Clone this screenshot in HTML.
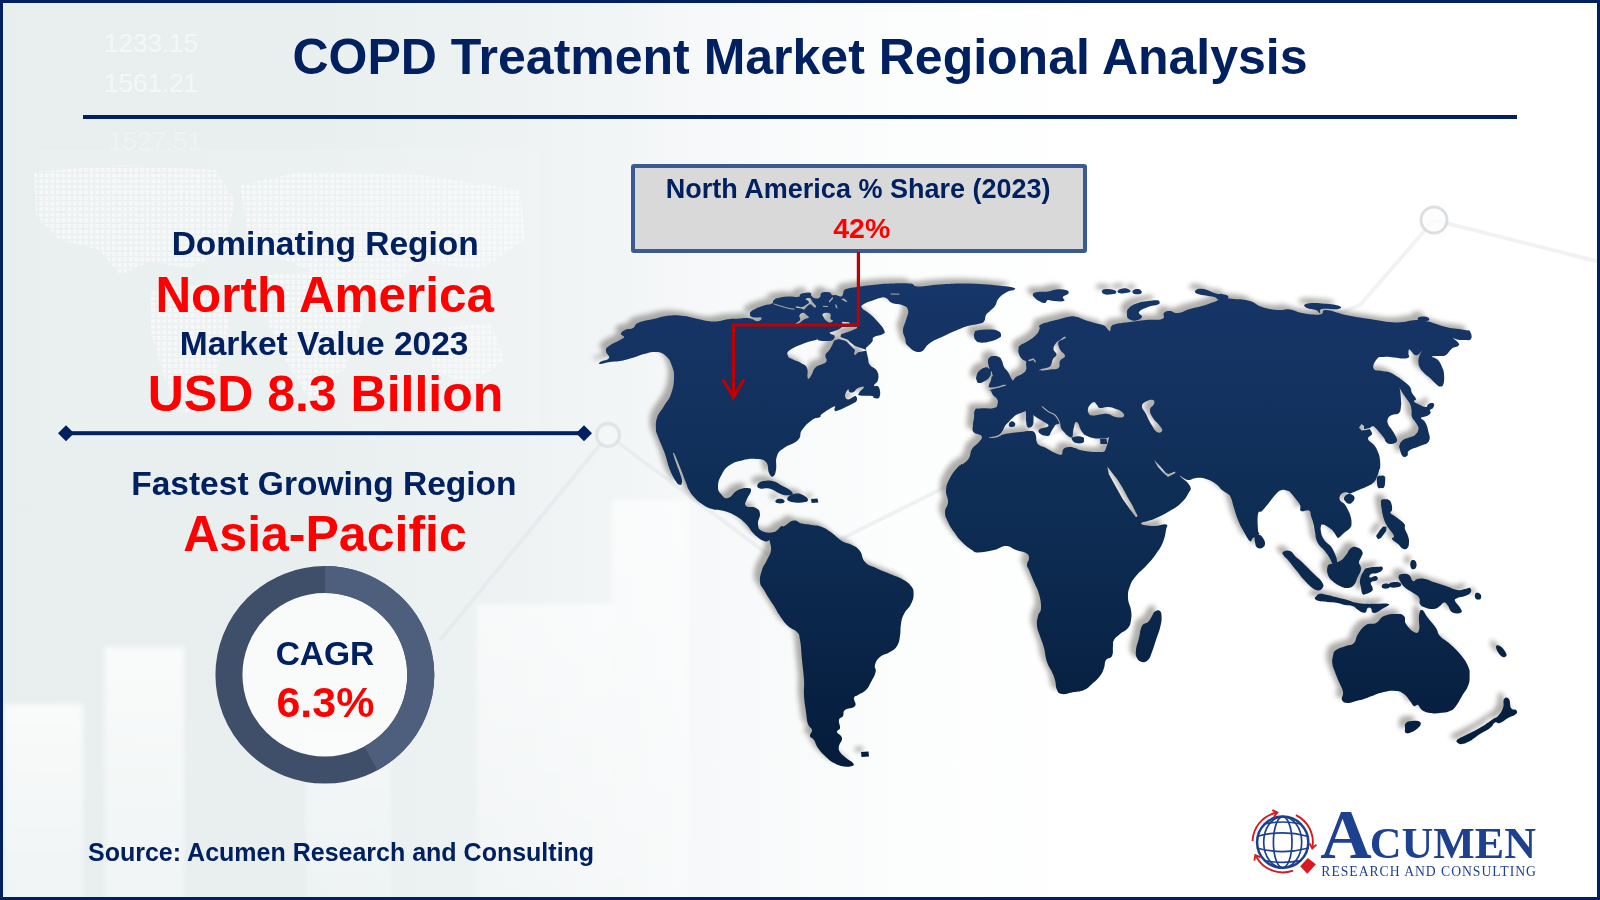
<!DOCTYPE html>
<html lang="en"><head><meta charset="utf-8"><title>COPD Treatment Market Regional Analysis</title>
<style>
html,body{margin:0;padding:0;}
body{width:1600px;height:900px;overflow:hidden;position:relative;background:#fff;font-family:"Liberation Sans",sans-serif;}
#stage{position:absolute;left:0;top:0;width:1600px;height:900px;overflow:hidden;
 background:linear-gradient(90deg,#e8eeee 0px,#e9efef 300px,#eef2f3 520px,#f6f8f9 700px,#fcfdfd 900px,#ffffff 1100px,#ffffff 1600px);}
#frame{position:absolute;left:0;top:0;width:1600px;height:900px;box-sizing:border-box;border:solid #002060;border-width:3px 3px 3px 3px;z-index:50;pointer-events:none;}
.t{position:absolute;white-space:nowrap;font-weight:bold;line-height:1;margin:0;}
.c{transform:translateX(-50%);}
.navy{color:#002060;}
.red{color:#ff0000;}
#title{left:800px;top:32.4px;font-size:50px;letter-spacing:0px;}
#rule{position:absolute;left:83.2px;top:114.7px;width:1433.7px;height:4.4px;background:#002060;}
#bg svg{position:absolute;left:0;top:0;}
svg{position:absolute;left:0;top:0;overflow:visible;}
</style></head>
<body>
<div id="stage">
<svg id="bgtex" width="1600" height="900" viewBox="0 0 1600 900">
<defs>
<linearGradient id="barfade" x1="0" y1="0" x2="0" y2="1"><stop offset="0" stop-color="#fff" stop-opacity="0.75"/><stop offset="1" stop-color="#fff" stop-opacity="0.35"/></linearGradient>
<filter id="soft" x="-10%" y="-10%" width="120%" height="120%"><feGaussianBlur stdDeviation="2.5"/></filter>
<pattern id="dots" width="5.6" height="5.6" patternUnits="userSpaceOnUse"><rect x="0" y="0" width="4" height="4" fill="#fff"/></pattern>
</defs>
<g filter="url(#soft)" opacity="1">
<rect x="4" y="704" width="79" height="196" fill="url(#barfade)"/>
<rect x="105" y="647" width="79" height="253" fill="url(#barfade)"/>
<rect x="306" y="735" width="85" height="165" fill="url(#barfade)" opacity="0.6"/>
<rect x="477" y="604" width="135" height="296" fill="url(#barfade)" opacity="0.8"/>
<rect x="612" y="500" width="78" height="400" fill="url(#barfade)" opacity="0.8"/>
</g>
<g opacity="0.6">
<path d="M34 172 L120 165 L215 170 L235 200 L225 250 L190 268 L150 262 L120 275 L100 250 L60 240 L36 215 Z" fill="url(#dots)"/>
<path d="M240 185 L300 172 L420 175 L520 190 L525 240 L480 270 L420 262 L380 300 L330 280 L290 262 L250 250 Z" fill="url(#dots)"/>
<path d="M150 290 L200 285 L230 320 L215 380 L185 415 L165 380 L150 330 Z" fill="url(#dots)"/>
<path d="M265 275 L340 270 L365 310 L345 370 L310 400 L285 360 L262 310 Z" fill="url(#dots)"/>
<path d="M430 330 L490 322 L505 360 L470 385 L432 370 Z" fill="url(#dots)"/>
</g>
<rect x="40" y="150" width="500" height="290" fill="#ffffff" opacity="0.10"/>
<g font-family="Liberation Sans, sans-serif" font-size="26" fill="#ffffff" opacity="0.55">
<text x="104" y="52">1233.15</text><text x="104" y="92">1561.21</text><text x="108" y="150" opacity="0.5">1527.51</text><text x="108" y="192" opacity="0.5">1215.22</text>
</g>
<path d="M440 640 L608 435 L785 567 L1120 400 L1360 305 L1434 220 L1600 262" fill="none" stroke="#dfe3e6" stroke-width="4" opacity="0.45"/>
<circle cx="1434" cy="220" r="13" fill="#fdfdfd" stroke="#d4d8db" stroke-width="3" opacity="0.8"/>
<circle cx="608" cy="435" r="11.5" fill="#f6f8f8" stroke="#dde1e3" stroke-width="3.4" opacity="0.8"/>
</svg>
<div id="title" class="t c navy">COPD Treatment Market Regional Analysis</div>
<div id="rule"></div>
<svg id="deco" width="1600" height="900" viewBox="0 0 1600 900">
<rect x="66" y="431.2" width="518" height="4" fill="#002060"/>
<path d="M58 433.2 L66 425.2 L74 433.2 L66 441.2 Z" fill="#002060"/>
<path d="M576 433.2 L584 425.2 L592 433.2 L584 441.2 Z" fill="#002060"/>
<ellipse cx="324.85" cy="674.8" rx="90" ry="89.5" fill="#fbfcfc" opacity="0.9"/>
<ellipse cx="324.85" cy="674.8" rx="95.9" ry="95.3" fill="none" stroke="#404f69" stroke-width="27"/>
<path d="M324.85 579.5 A95.9 95.3 0 0 1 370.85 758.4" fill="none" stroke="#4d5f7c" stroke-width="27"/>
</svg>
<div id="l1" class="t c navy" style="left:325.2px;top:227.4px;font-size:33.5px;">Dominating Region</div>
<div id="l2" class="t c red" style="left:324.65px;top:269.8px;font-size:49.4px;">North America</div>
<div id="l3" class="t c navy" style="left:324.1px;top:327.1px;font-size:33.5px;">Market Value 2023</div>
<div id="l4" class="t c red" style="left:325.5px;top:369.2px;font-size:50px;">USD 8.3 Billion</div>
<div id="l5" class="t c navy" style="left:323.9px;top:466.9px;font-size:33.5px;">Fastest Growing Region</div>
<div id="l6" class="t c red" style="left:325px;top:509.2px;font-size:50px;">Asia-Pacific</div>
<div id="l7" class="t c navy" style="left:325px;top:637.3px;font-size:33.5px;">CAGR</div>
<div id="l8" class="t c red" style="left:325.4px;top:680.5px;font-size:43px;">6.3%</div>
<div id="src" class="t navy" style="left:88px;top:840px;font-size:25px;">Source: Acumen Research and Consulting</div>
<div id="callout" style="position:absolute;left:630.5px;top:163.5px;width:456px;height:89px;box-sizing:border-box;border:4.6px solid #3b5a92;border-radius:3px;background:#d9d9d9;"></div>
<div id="c1" class="t c navy" style="left:858.2px;top:176px;font-size:27px;">North America % Share (2023)</div>
<div id="c2" class="t c red" style="left:861.8px;top:213.5px;font-size:28.5px;">42%</div>
<svg id="map" width="1600" height="900" viewBox="0 0 1600 900">
<defs>
<linearGradient id="mapgrad" gradientUnits="userSpaceOnUse" x1="0" y1="283" x2="0" y2="768">
<stop offset="0" stop-color="#173669"/><stop offset="0.48" stop-color="#0e2d54"/><stop offset="1" stop-color="#051c3b"/>
</linearGradient>
<mask id="landmask" maskUnits="userSpaceOnUse" x="580" y="260" width="990" height="530">
<rect x="580" y="260" width="990" height="530" fill="#000"/>
<path d="M600.0 364.0C597.9 363.9 598.9 363.0 601.0 361.6C603.1 360.2 607.8 360.5 609.0 358.0C610.2 355.5 606.0 353.8 606.0 351.0C606.0 348.2 605.7 348.6 609.0 346.0C612.3 343.4 616.5 342.1 620.0 340.0C623.5 337.9 623.8 338.5 624.0 337.0C624.2 335.5 620.5 335.3 621.0 333.6C621.5 331.9 623.2 330.9 626.0 329.6C628.8 328.3 630.0 329.7 633.0 328.0C636.0 326.3 633.6 324.6 639.0 322.4C644.4 320.2 648.8 320.0 656.0 318.4C663.2 316.8 663.5 316.2 670.0 315.6C676.5 315.0 677.5 315.2 684.0 316.0C690.5 316.8 691.0 317.7 698.0 319.0C705.0 320.3 707.0 321.6 714.0 321.6C721.0 321.6 721.9 319.9 728.0 319.2C734.1 318.5 735.8 318.8 740.0 318.5C744.2 318.2 743.2 317.9 746.0 318.0C748.8 318.1 749.7 318.3 752.0 319.0C754.3 319.7 754.1 320.6 756.0 321.0C757.9 321.4 758.8 321.3 760.0 320.5C761.2 319.7 762.4 318.2 761.0 317.5C759.6 316.8 756.5 317.9 754.0 317.5C751.5 317.1 751.4 316.9 750.5 316.0C749.6 315.1 749.9 314.6 750.0 313.5C750.1 312.4 749.6 312.7 751.0 311.5C752.4 310.3 753.0 309.9 756.0 308.5C759.0 307.1 760.3 306.7 764.0 305.5C767.7 304.3 769.8 304.7 772.0 303.5C774.2 302.3 772.1 301.8 773.5 300.5C774.9 299.2 774.6 298.9 778.0 298.0C781.4 297.1 783.2 296.8 788.0 296.5C792.8 296.2 795.7 297.3 798.5 296.8C801.3 296.3 798.7 295.4 800.0 294.5C801.3 293.6 801.5 293.4 804.0 293.0C806.5 292.6 808.8 292.3 810.5 293.0C812.2 293.7 810.2 294.7 811.5 296.0C812.8 297.3 814.0 298.3 816.0 298.5C818.0 298.7 818.8 298.2 820.0 297.0C821.2 295.8 819.8 294.7 821.0 293.5C822.2 292.3 822.9 292.2 825.0 292.0C827.1 291.8 828.4 291.8 830.0 292.5C831.6 293.2 830.6 294.4 832.0 295.0C833.4 295.6 833.9 294.6 836.0 295.0C838.1 295.4 839.4 296.7 841.0 296.5C842.6 296.3 842.3 295.4 843.0 294.0C843.7 292.6 842.8 291.8 844.0 290.5C845.2 289.2 845.0 289.3 848.0 288.5C851.0 287.7 851.7 287.7 856.8 287.0C861.9 286.3 862.3 286.1 870.0 285.3C877.7 284.5 880.7 284.0 890.0 283.6C899.3 283.2 903.5 282.9 910.0 283.6C916.5 284.3 911.0 286.2 918.0 286.4C925.0 286.6 927.9 285.1 940.0 284.4C952.1 283.7 955.5 283.2 970.0 283.6C984.5 284.0 991.8 285.0 1002.0 286.0C1012.2 287.0 1010.8 286.9 1013.6 287.8C1016.4 288.7 1015.3 289.1 1014.0 290.0C1012.7 290.9 1011.5 289.7 1008.0 291.6C1004.5 293.5 1002.0 294.6 999.0 298.0C996.0 301.4 997.1 303.0 995.0 306.0C992.9 309.0 992.1 308.9 990.0 311.0C987.9 313.1 987.4 312.6 986.0 315.0C984.6 317.4 985.9 319.4 984.0 321.5C982.1 323.6 981.3 323.1 978.0 324.0C974.7 324.9 973.7 324.6 970.0 325.5C966.3 326.4 968.1 325.6 962.0 328.0C955.9 330.4 951.5 332.5 944.0 336.0C936.5 339.5 935.6 339.3 930.0 343.0C924.4 346.7 925.1 351.3 920.0 352.0C914.9 352.7 911.5 349.3 908.0 346.0C904.5 342.7 906.2 341.7 905.0 338.0C903.8 334.3 902.8 334.2 903.0 330.0C903.2 325.8 904.8 324.7 906.0 320.0C907.2 315.3 908.9 313.5 908.0 310.0C907.1 306.5 905.7 306.6 902.0 305.0C898.3 303.4 895.7 304.6 892.0 303.0C888.3 301.4 888.8 299.2 886.0 298.0C883.2 296.8 882.8 297.5 880.0 298.0C877.2 298.5 877.7 298.6 874.0 300.0C870.3 301.4 866.8 302.1 864.0 304.0C861.2 305.9 860.6 305.7 862.0 308.0C863.4 310.3 866.3 310.7 870.0 314.0C873.7 317.3 874.7 318.3 878.0 322.0C881.3 325.7 882.8 327.2 884.0 330.0C885.2 332.8 885.3 332.4 883.0 334.0C880.7 335.6 876.6 335.1 874.0 337.0C871.4 338.9 873.9 339.4 872.0 342.0C870.1 344.6 867.4 346.4 866.0 348.0C864.6 349.6 865.5 346.7 866.0 349.0C866.5 351.3 867.1 354.3 868.0 358.0C868.9 361.7 867.9 362.0 870.0 365.0C872.1 368.0 875.1 367.5 877.0 371.0C878.9 374.5 878.7 376.6 878.0 380.0C877.3 383.4 873.8 383.8 874.0 385.5C874.2 387.2 877.7 384.8 879.0 387.5C880.3 390.2 880.7 394.6 879.5 397.0C878.3 399.4 875.8 398.2 874.0 398.0C872.2 397.8 875.3 396.6 872.0 396.0C868.7 395.4 863.0 396.2 860.0 395.5C857.0 394.8 858.1 395.0 859.0 393.0C859.9 391.0 864.2 388.2 864.0 387.0C863.8 385.8 860.5 386.8 858.0 388.0C855.5 389.2 855.5 391.1 853.5 392.0C851.5 392.9 850.8 392.6 849.5 392.0C848.2 391.4 849.0 388.7 848.0 389.5C847.0 390.3 845.0 393.2 845.0 395.5C845.0 397.8 845.9 399.3 848.0 399.5C850.1 399.7 852.0 397.1 854.0 396.5C856.0 395.9 855.9 395.9 856.5 397.0C857.1 398.1 857.5 399.4 856.5 401.0C855.5 402.6 856.3 401.8 852.0 404.0C847.7 406.2 842.1 409.1 838.0 410.5C833.9 411.9 835.4 410.9 834.5 410.0C833.6 409.1 836.9 405.6 834.0 406.5C831.1 407.4 825.3 411.6 822.0 414.0C818.7 416.4 822.3 415.6 820.0 417.0C817.7 418.4 816.2 417.0 812.0 420.0C807.8 423.0 805.3 425.3 802.0 430.0C798.7 434.7 802.2 435.8 798.0 440.0C793.8 444.2 788.9 444.3 784.0 448.0C779.1 451.7 778.9 450.9 777.0 456.0C775.1 461.1 776.9 465.2 776.0 470.0C775.1 474.8 774.6 475.7 773.0 476.4C771.4 477.1 770.6 476.4 769.0 473.0C767.4 469.6 769.0 465.3 766.0 462.0C763.0 458.7 761.6 459.4 756.0 459.0C750.4 458.6 748.1 459.0 742.0 460.4C735.9 461.8 734.7 461.8 730.0 465.0C725.3 468.2 724.8 469.1 722.0 474.0C719.2 478.9 718.2 481.3 718.0 486.0C717.8 490.7 718.7 491.2 721.0 494.0C723.3 496.8 724.0 498.9 728.0 498.0C732.0 497.1 733.3 492.3 738.0 490.0C742.7 487.7 745.0 487.8 748.0 488.0C751.0 488.2 751.2 488.4 751.0 491.0C750.8 493.6 748.2 495.5 747.0 499.0C745.8 502.5 743.9 503.9 746.0 506.0C748.1 508.1 752.7 506.1 756.0 508.0C759.3 509.9 759.5 510.3 760.0 514.0C760.5 517.7 757.5 520.0 758.0 524.0C758.5 528.0 758.3 529.1 762.0 531.0C765.7 532.9 769.3 533.2 774.0 532.0C778.7 530.8 779.7 526.0 782.0 526.0C784.3 526.0 785.4 529.2 784.0 532.0C782.6 534.8 779.3 536.1 776.0 538.0C772.7 539.9 772.8 539.3 770.0 540.0C767.2 540.7 767.7 542.4 764.0 541.0C760.3 539.6 758.2 538.0 754.0 534.0C749.8 530.0 750.2 528.2 746.0 524.0C741.8 519.8 741.1 519.0 736.0 516.0C730.9 513.0 729.6 512.6 724.0 511.0C718.4 509.4 717.1 510.6 712.0 509.0C706.9 507.4 706.2 506.8 702.0 504.0C697.8 501.2 697.0 500.3 694.0 497.0C691.0 493.7 690.8 493.0 689.0 490.0C687.2 487.0 687.5 486.6 686.5 484.0C685.5 481.4 685.7 482.0 684.5 479.0C683.3 476.0 682.9 474.7 681.5 471.0C680.1 467.3 679.8 466.7 678.3 463.0C676.8 459.3 676.0 457.3 675.0 455.0C674.0 452.7 674.2 453.5 673.8 453.2C673.4 452.9 672.6 451.3 673.2 453.8C673.8 456.3 675.0 459.8 676.5 464.0C678.0 468.2 678.3 468.5 679.5 472.0C680.7 475.5 681.3 476.4 681.8 479.0C682.3 481.6 682.2 481.6 681.8 483.0C681.4 484.4 681.4 485.2 680.0 484.8C678.6 484.4 678.3 485.0 676.0 481.5C673.7 478.0 672.6 476.4 670.0 470.0C667.4 463.6 667.1 460.1 665.0 454.0C662.9 447.9 662.9 448.7 661.0 444.0C659.1 439.3 658.2 437.3 657.0 434.0C655.8 430.7 656.0 433.7 656.0 430.0C656.0 426.3 655.1 423.6 657.0 418.0C658.9 412.4 660.7 411.6 664.0 406.0C667.3 400.4 668.7 400.5 671.0 394.0C673.3 387.5 673.8 384.5 674.0 378.0C674.2 371.5 673.9 371.1 672.0 366.0C670.1 360.9 669.7 359.3 666.0 356.0C662.3 352.7 661.1 352.5 656.0 352.0C650.9 351.5 649.6 352.6 644.0 354.0C638.4 355.4 637.6 356.4 632.0 358.0C626.4 359.6 625.1 360.1 620.0 361.0C614.9 361.9 614.7 361.3 610.0 362.0C605.3 362.7 602.1 364.1 600.0 364.0ZM770.0 538.0C771.2 533.8 772.3 535.0 776.0 532.0C779.7 529.0 781.8 527.7 786.0 525.0C790.2 522.3 790.3 520.9 794.0 520.6C797.7 520.3 797.8 522.6 802.0 523.6C806.2 524.6 807.3 524.2 812.0 525.0C816.7 525.8 817.3 525.1 822.0 527.0C826.7 528.9 827.3 529.7 832.0 533.0C836.7 536.3 837.3 538.2 842.0 541.0C846.7 543.8 847.8 542.7 852.0 545.0C856.2 547.3 857.0 547.0 860.0 551.0C863.0 555.0 861.3 558.0 865.0 562.0C868.7 566.0 870.2 565.2 876.0 568.0C881.8 570.8 883.9 571.4 890.0 574.0C896.1 576.6 897.1 576.2 902.0 579.0C906.9 581.8 908.3 582.5 911.0 586.0C913.7 589.5 913.6 589.8 913.6 594.0C913.6 598.2 913.2 599.3 911.0 604.0C908.8 608.7 906.3 609.3 904.0 614.0C901.7 618.7 901.9 618.9 901.0 624.0C900.1 629.1 900.9 630.9 900.0 636.0C899.1 641.1 899.3 642.3 897.0 646.0C894.7 649.7 894.0 649.4 890.0 652.0C886.0 654.6 883.5 654.0 880.0 657.0C876.5 660.0 876.0 661.5 875.0 665.0C874.0 668.5 876.5 668.0 875.6 672.0C874.7 676.0 873.2 677.8 871.0 682.0C868.8 686.2 869.0 687.0 866.0 690.0C863.0 693.0 860.8 693.1 858.0 695.0C855.2 696.9 854.7 695.4 854.0 698.0C853.3 700.6 857.1 703.2 855.0 706.0C852.9 708.8 847.8 707.7 845.0 710.0C842.2 712.3 844.4 713.7 843.0 716.0C841.6 718.3 839.7 717.2 839.0 720.0C838.3 722.8 840.5 725.2 840.0 728.0C839.5 730.8 836.5 729.7 837.0 732.0C837.5 734.3 841.5 734.7 842.0 738.0C842.5 741.3 839.5 742.7 839.0 746.0C838.5 749.3 838.4 749.2 840.0 752.0C841.6 754.8 843.0 755.4 846.0 758.0C849.0 760.6 851.6 761.1 853.0 763.0C854.4 764.9 854.1 765.2 852.0 766.0C849.9 766.8 848.2 767.1 844.0 766.4C839.8 765.7 838.4 765.4 834.0 763.0C829.6 760.6 828.7 759.5 825.0 756.0C821.3 752.5 820.6 751.7 818.0 748.0C815.4 744.3 815.9 742.8 814.0 740.0C812.1 737.2 810.5 738.3 810.0 736.0C809.5 733.7 812.5 732.8 812.0 730.0C811.5 727.2 809.4 728.2 808.0 724.0C806.6 719.8 806.9 718.5 806.0 712.0C805.1 705.5 804.5 703.5 804.0 696.0C803.5 688.5 804.5 688.4 804.0 680.0C803.5 671.6 802.9 669.3 802.0 660.0C801.1 650.7 801.2 646.5 800.0 640.0C798.8 633.5 799.8 635.3 797.0 632.0C794.2 628.7 792.0 629.7 788.0 626.0C784.0 622.3 783.3 620.7 780.0 616.0C776.7 611.3 776.3 609.7 774.0 606.0C771.7 602.3 772.3 603.7 770.0 600.0C767.7 596.3 766.3 594.2 764.0 590.0C761.7 585.8 760.5 586.7 760.0 582.0C759.5 577.3 760.4 575.1 762.0 570.0C763.6 564.9 764.9 564.7 767.0 560.0C769.1 555.3 770.3 555.1 771.0 550.0C771.7 544.9 768.8 542.2 770.0 538.0ZM1018.5 349.0C1018.7 347.0 1017.8 347.4 1020.0 345.5C1022.2 343.6 1024.3 343.4 1028.0 341.0C1031.7 338.6 1033.3 337.8 1036.0 335.0C1038.7 332.2 1038.6 331.3 1039.5 329.0C1040.4 326.7 1037.5 326.8 1040.0 325.0C1042.5 323.2 1045.3 322.9 1050.0 321.5C1054.7 320.1 1055.3 320.2 1060.0 319.0C1064.7 317.8 1066.0 317.0 1070.0 316.5C1074.0 316.0 1073.5 316.2 1077.0 317.0C1080.5 317.8 1080.8 318.6 1085.0 320.0C1089.2 321.4 1090.6 321.7 1095.0 323.0C1099.4 324.3 1101.1 324.1 1104.0 325.5C1106.9 326.9 1106.1 327.7 1107.5 329.0C1108.9 330.3 1109.1 331.7 1110.0 331.0C1110.9 330.3 1110.1 327.6 1111.5 326.0C1112.9 324.4 1113.5 324.7 1116.0 324.0C1118.5 323.3 1118.7 323.5 1122.0 323.0C1125.3 322.5 1124.4 322.7 1130.0 322.0C1135.6 321.3 1138.5 320.7 1146.0 320.0C1153.5 319.3 1157.8 320.6 1162.0 319.0C1166.2 317.4 1162.1 314.9 1164.0 313.0C1165.9 311.1 1166.7 311.0 1170.0 311.0C1173.3 311.0 1173.3 313.5 1178.0 313.0C1182.7 312.5 1184.4 310.6 1190.0 309.0C1195.6 307.4 1196.4 307.6 1202.0 306.0C1207.6 304.4 1209.3 303.6 1214.0 302.0C1218.7 300.4 1217.3 299.7 1222.0 299.0C1226.7 298.3 1227.5 298.5 1234.0 299.0C1240.5 299.5 1243.5 299.1 1250.0 301.0C1256.5 302.9 1255.5 304.9 1262.0 307.0C1268.5 309.1 1271.5 309.4 1278.0 310.0C1284.5 310.6 1284.4 308.8 1290.0 309.5C1295.6 310.2 1295.0 311.8 1302.0 313.0C1309.0 314.2 1314.4 315.2 1320.0 314.5C1325.6 313.8 1319.9 309.9 1326.0 310.0C1332.1 310.1 1335.7 312.9 1346.0 315.0C1356.3 317.1 1358.3 317.3 1370.0 319.0C1381.7 320.7 1385.3 322.2 1396.0 322.4C1406.7 322.6 1408.5 320.2 1416.0 320.0C1423.5 319.8 1421.0 320.0 1428.0 321.6C1435.0 323.2 1437.4 325.0 1446.0 327.0C1454.6 329.0 1459.4 328.9 1465.0 330.0C1470.6 331.1 1468.6 329.4 1470.0 331.5C1471.4 333.6 1472.4 337.0 1471.0 339.0C1469.6 341.0 1467.3 339.9 1464.0 340.0C1460.7 340.1 1459.6 340.0 1457.0 339.5C1454.4 339.0 1452.7 337.2 1453.0 338.0C1453.3 338.8 1457.3 341.1 1458.5 343.0C1459.7 344.9 1459.5 344.7 1458.0 346.0C1456.5 347.3 1454.8 346.4 1452.0 348.5C1449.2 350.6 1448.8 353.2 1446.0 355.0C1443.2 356.8 1443.3 355.6 1440.0 356.0C1436.7 356.4 1432.5 355.6 1432.0 356.5C1431.5 357.4 1435.7 357.6 1438.0 360.0C1440.3 362.4 1440.6 363.7 1442.0 367.0C1443.4 370.3 1443.7 370.0 1444.0 374.0C1444.3 378.0 1444.4 381.1 1443.5 384.0C1442.6 386.9 1441.8 386.5 1440.0 386.5C1438.2 386.5 1438.3 386.0 1436.0 384.0C1433.7 382.0 1432.8 380.6 1430.0 378.0C1427.2 375.4 1426.3 375.3 1424.0 373.0C1421.7 370.7 1421.3 370.3 1420.0 368.0C1418.7 365.7 1418.7 365.6 1418.5 363.0C1418.3 360.4 1418.2 359.9 1419.0 357.0C1419.8 354.1 1422.0 351.2 1422.0 350.5C1422.0 349.8 1420.6 352.9 1419.0 354.0C1417.4 355.1 1416.9 355.7 1415.0 355.0C1413.1 354.3 1412.4 352.3 1411.0 351.0C1409.6 349.7 1409.6 348.8 1409.0 349.5C1408.4 350.2 1408.5 352.2 1408.5 354.0C1408.5 355.8 1410.0 355.9 1409.0 357.0C1408.0 358.1 1407.5 358.4 1404.0 358.5C1400.5 358.6 1398.7 357.9 1394.0 357.5C1389.3 357.1 1388.0 356.6 1384.0 357.0C1380.0 357.4 1379.5 356.3 1377.0 359.0C1374.5 361.7 1372.3 365.7 1373.5 368.5C1374.7 371.3 1378.2 370.1 1382.0 371.0C1385.8 371.9 1386.5 371.2 1390.0 372.5C1393.5 373.8 1393.7 374.4 1397.0 376.5C1400.3 378.6 1401.0 379.1 1404.0 381.5C1407.0 383.9 1408.1 384.3 1410.0 387.0C1411.9 389.7 1410.6 390.2 1412.0 393.0C1413.4 395.8 1415.5 397.0 1416.0 399.0C1416.5 401.0 1413.1 400.1 1414.0 401.5C1414.9 402.9 1417.2 403.7 1420.0 405.0C1422.8 406.3 1424.1 407.1 1426.0 407.0C1427.9 406.9 1426.8 405.4 1428.0 404.5C1429.2 403.6 1429.6 403.1 1431.0 403.0C1432.4 402.9 1433.5 402.8 1434.0 404.0C1434.5 405.2 1433.9 406.6 1433.0 408.0C1432.1 409.4 1430.6 408.8 1430.0 410.0C1429.4 411.2 1431.2 411.6 1430.5 413.0C1429.8 414.4 1429.2 414.8 1427.0 416.0C1424.8 417.2 1421.5 416.6 1421.0 418.0C1420.5 419.4 1423.4 419.2 1425.0 422.0C1426.6 424.8 1427.1 425.6 1428.0 430.0C1428.9 434.4 1430.9 437.3 1429.0 441.0C1427.1 444.7 1424.0 444.1 1420.0 446.0C1416.0 447.9 1414.8 447.6 1412.0 449.0C1409.2 450.4 1409.0 450.5 1408.0 452.0C1407.0 453.5 1408.7 454.4 1407.5 455.5C1406.3 456.6 1404.8 457.8 1403.0 456.5C1401.2 455.2 1400.8 452.7 1400.0 450.0C1399.2 447.3 1398.8 447.3 1399.5 445.0C1400.2 442.7 1400.8 441.8 1403.0 440.0C1405.2 438.2 1406.2 438.7 1409.0 437.5C1411.8 436.3 1412.8 437.0 1415.0 435.0C1417.2 433.0 1418.3 431.8 1418.5 429.0C1418.7 426.2 1417.5 425.8 1416.0 423.0C1414.5 420.2 1413.0 420.0 1412.0 417.0C1411.0 414.0 1412.0 413.0 1411.5 410.0C1411.0 407.0 1411.3 406.8 1410.0 404.0C1408.7 401.2 1407.9 400.8 1406.0 398.0C1404.1 395.2 1403.6 394.6 1402.0 392.0C1400.4 389.4 1399.5 387.5 1399.0 387.0C1398.5 386.5 1399.5 387.0 1400.0 390.0C1400.5 393.0 1400.8 396.3 1401.0 400.0C1401.2 403.7 1401.5 403.0 1401.0 406.0C1400.5 409.0 1401.1 410.9 1399.0 413.0C1396.9 415.1 1394.6 413.7 1392.0 415.0C1389.4 416.3 1388.9 416.4 1388.0 418.5C1387.1 420.6 1387.1 421.3 1388.0 424.0C1388.9 426.7 1390.4 427.4 1392.0 430.0C1393.6 432.6 1393.8 432.7 1395.0 435.0C1396.2 437.3 1397.0 438.1 1397.0 440.0C1397.0 441.9 1396.6 442.1 1395.0 443.0C1393.4 443.9 1392.1 444.2 1390.0 444.0C1387.9 443.8 1387.4 443.4 1386.0 442.0C1384.6 440.6 1385.4 440.1 1384.0 438.0C1382.6 435.9 1382.2 435.6 1380.0 433.0C1377.8 430.4 1376.4 428.5 1374.5 427.0C1372.6 425.5 1373.0 426.0 1372.0 426.5C1371.0 427.0 1370.0 427.2 1370.0 429.0C1370.0 430.8 1372.5 431.7 1372.0 434.0C1371.5 436.3 1367.5 436.4 1368.0 439.0C1368.5 441.6 1371.7 442.0 1374.0 445.0C1376.3 448.0 1376.6 448.5 1378.0 452.0C1379.4 455.5 1379.5 455.8 1380.0 460.0C1380.5 464.2 1380.1 467.9 1380.0 470.0C1379.9 472.1 1380.2 467.4 1379.5 469.0C1378.8 470.6 1378.5 473.7 1377.0 477.0C1375.5 480.3 1375.6 480.7 1373.0 483.0C1370.4 485.3 1369.0 485.5 1366.0 487.0C1363.0 488.5 1362.8 488.3 1360.0 489.5C1357.2 490.7 1356.3 491.1 1354.0 492.0C1351.7 492.9 1351.9 493.4 1350.0 493.5C1348.1 493.6 1347.9 492.3 1346.0 492.3C1344.1 492.3 1343.5 492.3 1342.0 493.5C1340.5 494.7 1339.7 495.6 1339.5 497.5C1339.3 499.4 1339.8 500.0 1341.0 501.5C1342.2 503.0 1342.9 502.0 1344.5 504.0C1346.1 506.0 1346.6 507.2 1348.0 510.0C1349.4 512.8 1349.7 513.0 1350.5 516.0C1351.3 519.0 1351.6 520.2 1351.5 523.0C1351.4 525.8 1351.8 525.7 1350.0 528.0C1348.2 530.3 1346.6 530.8 1344.0 533.0C1341.4 535.2 1340.6 536.6 1339.0 537.5C1337.4 538.4 1338.4 538.5 1337.0 537.0C1335.6 535.5 1335.1 533.3 1333.0 531.0C1330.9 528.7 1330.3 528.5 1328.0 527.0C1325.7 525.5 1324.6 524.7 1323.0 524.5C1321.4 524.3 1321.5 524.2 1321.0 526.0C1320.5 527.8 1320.5 529.2 1321.0 532.0C1321.5 534.8 1321.6 535.4 1323.0 538.0C1324.4 540.6 1325.1 541.0 1327.0 543.0C1328.9 545.0 1329.1 543.9 1331.0 546.5C1332.9 549.1 1333.6 550.6 1335.0 554.0C1336.4 557.4 1336.9 558.4 1337.0 561.0C1337.1 563.6 1336.4 564.2 1335.5 565.0C1334.6 565.8 1334.5 566.4 1333.0 564.5C1331.5 562.6 1331.1 560.4 1329.0 557.0C1326.9 553.6 1326.1 552.6 1324.0 550.0C1321.9 547.4 1321.8 548.3 1320.0 546.0C1318.2 543.7 1317.7 543.3 1316.5 540.0C1315.3 536.7 1315.7 535.7 1315.0 532.0C1314.3 528.3 1314.4 527.7 1313.5 524.0C1312.6 520.3 1312.0 519.1 1311.0 516.0C1310.0 512.9 1311.3 511.7 1309.0 510.5C1306.7 509.3 1303.1 512.3 1301.0 511.0C1298.9 509.7 1301.4 508.0 1300.0 505.0C1298.6 502.0 1297.3 501.0 1295.0 498.0C1292.7 495.0 1291.6 493.6 1290.0 492.0C1288.4 490.4 1289.9 491.5 1288.0 491.0C1286.1 490.5 1284.8 489.3 1282.0 490.0C1279.2 490.7 1279.3 490.7 1276.0 494.0C1272.7 497.3 1271.3 500.0 1268.0 504.0C1264.7 508.0 1264.3 508.7 1262.0 511.0C1259.7 513.3 1258.9 509.6 1258.0 514.0C1257.1 518.4 1257.8 525.3 1258.0 530.0C1258.2 534.7 1260.2 532.1 1259.0 534.0C1257.8 535.9 1255.1 536.4 1253.0 538.0C1250.9 539.6 1252.1 542.4 1250.0 541.0C1247.9 539.6 1246.8 536.9 1244.0 532.0C1241.2 527.1 1240.3 525.6 1238.0 520.0C1235.7 514.4 1235.6 513.1 1234.0 508.0C1232.4 502.9 1232.4 501.3 1231.0 498.0C1229.6 494.7 1230.1 495.9 1228.0 494.0C1225.9 492.1 1224.8 492.3 1222.0 490.0C1219.2 487.7 1219.7 486.6 1216.0 484.0C1212.3 481.4 1210.7 480.4 1206.0 479.0C1201.3 477.6 1200.2 477.8 1196.0 478.0C1191.8 478.2 1191.7 480.5 1188.0 480.0C1184.3 479.5 1179.5 474.6 1180.0 476.0C1180.5 477.4 1188.1 481.8 1190.0 486.0C1191.9 490.2 1190.3 489.8 1188.0 494.0C1185.7 498.2 1184.7 499.8 1180.0 504.0C1175.3 508.2 1174.1 508.5 1168.0 512.0C1161.9 515.5 1160.3 516.3 1154.0 519.0C1147.7 521.7 1141.0 521.9 1141.0 523.5C1141.0 525.1 1148.2 525.8 1154.0 526.0C1159.8 526.2 1163.2 523.6 1166.0 524.5C1168.8 525.4 1166.7 525.9 1166.0 530.0C1165.3 534.1 1165.3 536.4 1163.0 542.0C1160.7 547.6 1160.0 548.4 1156.0 554.0C1152.0 559.6 1150.7 560.9 1146.0 566.0C1141.3 571.1 1139.7 571.3 1136.0 576.0C1132.3 580.7 1131.9 580.9 1130.0 586.0C1128.1 591.1 1127.8 592.4 1128.0 598.0C1128.2 603.6 1130.3 604.9 1131.0 610.0C1131.7 615.1 1131.7 615.8 1131.0 620.0C1130.3 624.2 1130.6 624.7 1128.0 628.0C1125.4 631.3 1123.3 631.2 1120.0 634.0C1116.7 636.8 1115.6 637.2 1114.0 640.0C1112.4 642.8 1113.5 642.3 1113.0 646.0C1112.5 649.7 1113.6 652.7 1112.0 656.0C1110.4 659.3 1107.9 657.2 1106.0 660.0C1104.1 662.8 1105.4 664.3 1104.0 668.0C1102.6 671.7 1102.8 672.3 1100.0 676.0C1097.2 679.7 1095.7 680.7 1092.0 684.0C1088.3 687.3 1088.7 688.0 1084.0 690.0C1079.3 692.0 1077.1 691.5 1072.0 692.4C1066.9 693.3 1065.5 694.6 1062.0 694.0C1058.5 693.4 1058.6 693.3 1057.0 690.0C1055.4 686.7 1056.2 684.2 1055.0 680.0C1053.8 675.8 1053.9 676.2 1052.0 672.0C1050.1 667.8 1048.9 667.6 1047.0 662.0C1045.1 656.4 1045.6 654.1 1044.0 648.0C1042.4 641.9 1041.6 641.1 1040.0 636.0C1038.4 630.9 1037.5 630.7 1037.0 626.0C1036.5 621.3 1037.1 620.2 1038.0 616.0C1038.9 611.8 1040.8 613.1 1041.0 608.0C1041.2 602.9 1040.6 600.1 1039.0 594.0C1037.4 587.9 1036.3 587.6 1034.0 582.0C1031.7 576.4 1030.6 574.0 1029.0 570.0C1027.4 566.0 1027.0 567.8 1027.0 565.0C1027.0 562.2 1029.2 560.8 1029.0 558.0C1028.8 555.2 1029.0 554.9 1026.0 553.0C1023.0 551.1 1020.7 551.6 1016.0 550.0C1011.3 548.4 1011.1 546.0 1006.0 546.0C1000.9 546.0 1000.5 548.5 994.0 550.0C987.5 551.5 983.1 552.4 978.0 552.4C972.9 552.4 975.7 552.4 972.0 550.0C968.3 547.6 966.2 546.2 962.0 542.0C957.8 537.8 957.3 536.7 954.0 532.0C950.7 527.3 950.1 526.7 948.0 522.0C945.9 517.3 945.0 516.7 945.0 512.0C945.0 507.3 947.8 507.1 948.0 502.0C948.2 496.9 945.5 495.6 946.0 490.0C946.5 484.4 947.2 483.4 950.0 478.0C952.8 472.6 955.0 470.3 958.0 467.0C961.0 463.7 960.4 466.1 963.0 464.0C965.6 461.9 966.9 461.5 969.0 458.0C971.1 454.5 969.7 452.7 972.0 449.0C974.3 445.3 976.8 445.0 979.0 442.0C981.2 439.0 982.8 438.3 981.5 436.0C980.2 433.7 975.5 434.6 973.5 432.0C971.5 429.4 972.9 428.3 973.0 425.0C973.1 421.7 973.5 421.5 974.0 418.0C974.5 414.5 973.6 412.2 975.0 410.0C976.4 407.8 975.6 409.0 980.0 408.5C984.4 408.0 989.9 409.1 994.0 408.0C998.1 406.9 996.8 406.1 997.5 404.0C998.2 401.9 998.0 401.1 997.0 399.0C996.0 396.9 994.4 396.9 993.0 395.0C991.6 393.1 991.7 392.2 991.0 391.0C990.3 389.8 986.5 391.3 990.0 390.0C993.5 388.7 1000.9 387.5 1006.0 385.5C1011.1 383.5 1009.7 383.5 1012.0 381.5C1014.3 379.5 1013.7 378.8 1016.0 377.0C1018.3 375.2 1019.7 375.6 1022.0 374.0C1024.3 372.4 1025.1 372.3 1026.0 370.0C1026.9 367.7 1026.0 366.0 1026.0 364.0C1026.0 362.0 1026.9 362.7 1026.0 361.5C1025.1 360.3 1023.6 360.8 1022.0 359.0C1020.4 357.2 1019.8 356.3 1019.0 354.0C1018.2 351.7 1018.3 351.0 1018.5 349.0ZM989.0 358.0C990.2 356.8 990.7 356.2 993.0 356.0C995.3 355.8 996.9 355.8 999.0 357.0C1001.1 358.2 1000.8 358.7 1002.0 361.0C1003.2 363.3 1002.6 364.4 1004.0 367.0C1005.4 369.6 1006.4 369.4 1008.0 372.0C1009.6 374.6 1010.0 376.0 1011.0 378.0C1012.0 380.0 1012.3 379.2 1012.5 380.5C1012.7 381.8 1013.2 382.4 1012.0 383.5C1010.8 384.6 1009.4 385.0 1007.5 385.3C1005.6 385.6 1006.2 384.5 1004.0 384.8C1001.8 385.1 1001.3 385.9 998.0 386.5C994.7 387.1 992.1 387.9 990.0 387.5C987.9 387.1 988.8 386.8 989.0 385.0C989.2 383.2 990.3 382.8 991.0 380.0C991.7 377.2 992.2 375.3 992.0 373.0C991.8 370.7 990.8 371.9 990.0 370.0C989.2 368.1 989.0 367.1 988.5 365.0C988.0 362.9 987.9 362.6 988.0 361.0C988.1 359.4 987.8 359.2 989.0 358.0ZM976.5 376.0C977.1 373.9 977.0 373.0 979.0 371.0C981.0 369.0 982.6 368.0 985.0 367.5C987.4 367.0 987.9 367.8 989.3 369.0C990.7 370.2 991.0 370.6 991.0 372.5C991.0 374.4 990.9 375.0 989.5 377.0C988.1 379.0 987.5 379.6 985.0 381.0C982.5 382.4 981.0 383.2 979.0 383.0C977.0 382.8 977.1 381.6 976.5 380.0C975.9 378.4 975.9 378.1 976.5 376.0ZM974.5 333.0C975.2 331.7 973.4 331.3 977.0 330.5C980.6 329.7 985.1 329.4 990.0 329.5C994.9 329.6 995.4 329.8 998.0 331.0C1000.6 332.2 1000.8 332.9 1001.0 334.5C1001.2 336.1 1001.6 336.4 999.0 338.0C996.4 339.6 994.4 340.4 990.0 341.5C985.6 342.6 983.4 342.9 980.0 342.5C976.6 342.1 976.9 341.5 975.5 340.0C974.1 338.5 974.2 337.6 974.0 336.0C973.8 334.4 973.8 334.3 974.5 333.0ZM1033.0 294.0C1033.7 292.6 1034.5 292.6 1038.0 292.0C1041.5 291.4 1043.8 292.2 1048.0 291.6C1052.2 291.0 1051.8 290.0 1056.0 289.6C1060.2 289.2 1063.1 289.1 1066.0 290.0C1068.9 290.9 1069.1 292.0 1068.4 293.6C1067.7 295.2 1064.0 295.3 1063.0 297.0C1062.0 298.7 1066.1 300.1 1064.0 301.0C1061.9 301.9 1057.7 301.2 1054.0 301.0C1050.3 300.8 1050.1 299.5 1048.0 300.0C1045.9 300.5 1046.9 302.6 1045.0 303.0C1043.1 303.4 1042.3 302.8 1040.0 301.6C1037.7 300.4 1036.6 299.8 1035.0 298.0C1033.4 296.2 1032.3 295.4 1033.0 294.0ZM1102.0 291.0C1102.5 289.8 1103.2 289.2 1106.0 289.0C1108.8 288.8 1111.7 289.1 1114.0 290.0C1116.3 290.9 1116.9 291.9 1116.0 293.0C1115.1 294.1 1112.8 294.3 1110.0 294.5C1107.2 294.7 1105.9 294.8 1104.0 294.0C1102.1 293.2 1101.5 292.2 1102.0 291.0ZM1118.0 290.5C1118.9 289.4 1120.4 288.6 1123.0 288.4C1125.6 288.2 1127.4 288.7 1129.0 289.5C1130.6 290.3 1131.2 291.1 1130.0 292.0C1128.8 292.9 1126.6 293.0 1124.0 293.2C1121.4 293.4 1120.4 293.6 1119.0 293.0C1117.6 292.4 1117.1 291.6 1118.0 290.5ZM1133.0 290.5C1133.9 289.6 1135.1 289.0 1137.0 289.0C1138.9 289.0 1140.1 289.4 1141.0 290.5C1141.9 291.6 1142.2 292.6 1141.0 293.5C1139.8 294.4 1137.9 294.3 1136.0 294.2C1134.1 294.1 1133.7 293.9 1133.0 293.0C1132.3 292.1 1132.1 291.4 1133.0 290.5ZM1127.0 314.0C1127.0 311.4 1126.4 310.6 1129.0 308.0C1131.6 305.4 1133.6 304.6 1138.0 303.0C1142.4 301.4 1143.6 301.7 1148.0 301.0C1152.4 300.3 1154.3 300.0 1157.0 300.2C1159.7 300.4 1159.3 301.0 1159.5 302.0C1159.7 303.0 1160.7 303.3 1158.0 304.5C1155.3 305.7 1152.4 305.2 1148.0 307.0C1143.6 308.8 1140.4 309.7 1139.0 312.0C1137.6 314.3 1142.7 315.0 1142.0 317.0C1141.3 319.0 1139.0 320.0 1136.0 320.5C1133.0 321.0 1131.1 320.5 1129.0 319.0C1126.9 317.5 1127.0 316.6 1127.0 314.0ZM1196.0 290.0C1197.4 288.8 1199.3 288.2 1204.0 289.0C1208.7 289.8 1211.8 292.4 1216.0 293.6C1220.2 294.8 1219.2 293.4 1222.0 294.0C1224.8 294.6 1227.1 294.7 1228.0 296.0C1228.9 297.3 1228.3 298.7 1226.0 299.5C1223.7 300.3 1220.8 300.2 1218.0 299.6C1215.2 299.0 1218.7 298.3 1214.0 297.0C1209.3 295.7 1202.2 295.6 1198.0 294.0C1193.8 292.4 1194.6 291.2 1196.0 290.0ZM1306.0 304.0C1309.5 302.9 1314.5 303.0 1322.0 303.4C1329.5 303.8 1334.2 304.3 1338.0 305.6C1341.8 306.9 1342.2 308.2 1338.5 309.0C1334.8 309.8 1326.3 308.1 1322.0 309.0C1317.7 309.9 1321.4 312.8 1320.0 313.0C1318.6 313.2 1319.0 311.2 1316.0 310.0C1313.0 308.8 1309.3 309.4 1307.0 308.0C1304.7 306.6 1302.5 305.1 1306.0 304.0ZM1418.0 318.0C1418.8 317.1 1419.7 316.7 1422.0 316.6C1424.3 316.5 1426.5 316.6 1428.0 317.5C1429.5 318.4 1429.9 319.7 1428.5 320.5C1427.1 321.3 1424.3 321.0 1422.0 321.0C1419.7 321.0 1419.4 321.2 1418.5 320.5C1417.6 319.8 1417.2 318.9 1418.0 318.0ZM757.6 484.6C758.4 482.8 759.7 481.7 763.5 481.0C767.3 480.3 769.6 480.2 774.0 481.4C778.4 482.6 778.6 483.9 782.5 486.0C786.4 488.1 788.3 488.5 790.5 490.5C792.7 492.5 793.8 493.6 791.8 494.5C789.8 495.4 787.1 495.7 782.0 494.4C776.9 493.1 775.1 490.2 770.0 488.8C764.9 487.4 762.9 489.6 760.0 488.6C757.1 487.6 756.8 486.4 757.6 484.6ZM776.0 500.0C776.9 499.1 778.1 498.8 780.0 498.8C781.9 498.8 783.1 499.1 784.0 500.0C784.9 500.9 784.9 501.8 784.0 502.6C783.1 503.4 781.9 503.4 780.0 503.4C778.1 503.4 776.9 503.4 776.0 502.6C775.1 501.8 775.1 500.9 776.0 500.0ZM788.0 497.0C789.4 495.1 792.5 494.1 796.0 493.6C799.5 493.1 800.2 493.5 803.0 495.0C805.8 496.5 808.2 498.3 808.0 500.0C807.8 501.7 806.2 502.0 802.0 502.4C797.8 502.8 793.3 502.9 790.0 501.6C786.7 500.3 786.6 498.9 788.0 497.0ZM811.0 499.0L817.5 498.6L818.4 502.6L811.6 503.0ZM861.0 752.0L868.5 751.5L869.0 756.5L861.5 757.0ZM1155.0 611.6C1156.9 610.4 1158.5 609.5 1160.0 611.0C1161.5 612.5 1161.6 614.0 1161.6 618.0C1161.6 622.0 1161.3 622.9 1160.0 628.0C1158.7 633.1 1157.9 634.4 1156.0 640.0C1154.1 645.6 1153.9 647.3 1152.0 652.0C1150.1 656.7 1150.3 657.7 1148.0 660.0C1145.7 662.3 1144.6 662.5 1142.0 662.0C1139.4 661.5 1138.4 660.8 1137.0 658.0C1135.6 655.2 1135.5 654.7 1136.0 650.0C1136.5 645.3 1137.6 643.6 1139.0 638.0C1140.4 632.4 1139.9 629.7 1142.0 626.0C1144.1 622.3 1145.7 624.3 1148.0 622.0C1150.3 619.7 1150.4 618.4 1152.0 616.0C1153.6 613.6 1153.1 612.8 1155.0 611.6ZM1255.0 536.0C1255.8 534.2 1256.6 534.0 1258.5 534.5C1260.4 535.0 1261.5 535.8 1263.0 538.0C1264.5 540.2 1265.2 541.7 1265.0 544.0C1264.8 546.3 1263.9 547.2 1262.0 548.0C1260.1 548.8 1258.6 548.9 1257.0 547.5C1255.4 546.1 1255.5 544.7 1255.0 542.0C1254.5 539.3 1254.2 537.8 1255.0 536.0ZM1377.5 476.8C1378.4 475.4 1379.4 475.9 1381.0 475.8C1382.6 475.7 1383.5 475.2 1384.5 476.2C1385.5 477.2 1385.3 477.5 1385.2 480.0C1385.1 482.5 1385.2 485.1 1384.2 487.0C1383.2 488.9 1382.4 487.9 1381.0 488.0C1379.6 488.1 1378.9 488.9 1378.0 487.5C1377.1 486.1 1377.1 484.5 1377.0 482.0C1376.9 479.5 1376.6 478.2 1377.5 476.8ZM1344.0 498.0C1344.3 496.4 1345.4 495.4 1347.0 494.5C1348.6 493.6 1349.2 493.5 1351.0 494.2C1352.8 494.9 1354.2 495.7 1354.5 497.5C1354.8 499.3 1353.8 500.5 1352.5 502.0C1351.2 503.5 1350.6 503.9 1349.0 503.8C1347.4 503.7 1346.7 502.9 1345.5 501.5C1344.3 500.1 1343.7 499.6 1344.0 498.0ZM1283.0 552.0C1284.4 550.8 1287.0 549.8 1290.0 551.0C1293.0 552.2 1293.2 554.4 1296.0 557.0C1298.8 559.6 1297.8 558.0 1302.0 562.0C1306.2 566.0 1309.3 569.3 1314.0 574.0C1318.7 578.7 1320.0 578.7 1322.0 582.0C1324.0 585.3 1323.9 586.1 1322.5 588.0C1321.1 589.9 1319.8 591.4 1316.0 590.0C1312.2 588.6 1310.7 586.7 1306.0 582.0C1301.3 577.3 1300.2 575.1 1296.0 570.0C1291.8 564.9 1290.8 563.3 1288.0 560.0C1285.2 556.7 1285.2 557.9 1284.0 556.0C1282.8 554.1 1281.6 553.2 1283.0 552.0ZM1315.0 598.8C1314.3 597.7 1314.8 597.7 1316.0 596.5C1317.2 595.3 1317.3 594.1 1320.0 593.8C1322.7 593.4 1323.4 594.1 1327.5 595.0C1331.6 595.9 1332.8 596.3 1337.5 597.5C1342.2 598.7 1343.4 598.8 1347.5 600.0C1351.6 601.2 1350.9 601.6 1355.0 602.5C1359.1 603.4 1359.8 603.5 1365.0 603.8C1370.2 604.0 1372.2 603.8 1377.5 603.8C1382.8 603.8 1385.0 603.3 1387.5 603.8C1390.0 604.2 1389.4 604.4 1388.2 605.6C1387.0 606.8 1385.0 607.3 1382.5 608.8C1380.0 610.2 1379.8 611.1 1377.5 612.0C1375.2 612.9 1374.0 613.4 1372.5 612.5C1371.0 611.6 1372.2 609.3 1371.0 608.3C1369.8 607.3 1368.7 607.4 1367.5 608.3C1366.3 609.2 1367.2 611.0 1366.0 612.0C1364.8 613.0 1364.5 613.1 1362.5 612.5C1360.5 611.9 1359.8 610.9 1357.5 609.4C1355.2 607.9 1355.4 607.0 1352.5 606.0C1349.6 605.0 1348.5 605.7 1345.0 605.0C1341.5 604.3 1341.6 603.7 1337.5 603.0C1333.4 602.3 1331.8 602.5 1327.5 602.0C1323.2 601.5 1321.9 601.8 1319.0 601.0C1316.1 600.2 1315.7 599.8 1315.0 598.8ZM1327.5 567.0C1328.2 564.4 1328.1 565.1 1331.0 563.8C1333.9 562.4 1336.5 563.0 1340.0 561.0C1343.5 559.0 1343.4 558.0 1346.0 555.0C1348.6 552.0 1348.3 549.8 1351.0 548.0C1353.7 546.2 1354.8 546.6 1357.5 547.5C1360.2 548.4 1361.7 549.7 1362.5 552.0C1363.3 554.3 1361.8 555.0 1361.0 557.5C1360.2 560.0 1359.0 559.8 1359.0 562.5C1359.0 565.2 1361.3 565.5 1361.0 569.0C1360.7 572.5 1359.1 573.8 1357.5 577.5C1355.9 581.2 1356.3 582.5 1354.0 585.0C1351.7 587.5 1350.8 587.8 1347.5 588.0C1344.2 588.2 1343.5 587.6 1340.0 586.0C1336.5 584.4 1335.3 583.6 1332.5 581.0C1329.7 578.4 1329.2 578.3 1328.0 575.0C1326.8 571.7 1326.8 569.6 1327.5 567.0ZM1363.8 571.0C1365.5 568.2 1364.3 569.0 1367.5 568.0C1370.7 567.0 1374.1 567.1 1377.5 566.8C1380.9 566.5 1380.9 566.1 1382.0 566.8C1383.1 567.5 1383.3 568.6 1382.3 570.0C1381.2 571.4 1380.1 572.1 1377.5 573.0C1374.9 573.9 1372.8 573.0 1371.0 574.0C1369.2 575.0 1368.8 577.0 1370.0 577.5C1371.2 578.0 1374.3 575.4 1376.0 576.0C1377.7 576.6 1378.4 578.5 1377.2 580.0C1376.0 581.5 1372.1 580.8 1371.0 582.5C1369.9 584.2 1372.3 585.5 1372.5 587.5C1372.7 589.5 1373.5 589.5 1372.0 591.0C1370.5 592.5 1368.2 593.3 1366.0 594.0C1363.8 594.7 1363.7 595.5 1362.5 594.0C1361.3 592.5 1361.6 590.8 1361.0 587.5C1360.4 584.2 1359.4 583.9 1360.0 580.0C1360.6 576.1 1362.0 573.8 1363.8 571.0ZM1381.5 500.0C1382.4 499.1 1383.2 499.3 1385.0 499.3C1386.8 499.3 1387.5 498.9 1389.0 500.0C1390.5 501.1 1390.8 501.7 1391.5 504.0C1392.2 506.3 1392.2 507.9 1392.0 510.0C1391.8 512.1 1389.6 511.4 1390.5 513.0C1391.4 514.6 1392.8 514.5 1396.0 517.0C1399.2 519.5 1401.9 520.7 1404.0 523.5C1406.1 526.3 1404.1 526.1 1405.0 529.0C1405.9 531.9 1407.1 533.0 1408.0 536.0C1408.9 539.0 1409.1 539.2 1409.0 542.0C1408.9 544.8 1408.9 546.4 1407.5 548.0C1406.1 549.6 1405.2 549.7 1403.0 548.8C1400.8 547.9 1400.6 546.3 1398.0 544.0C1395.4 541.7 1392.9 540.9 1392.0 539.0C1391.1 537.1 1394.5 538.1 1394.0 536.0C1393.5 533.9 1391.9 532.8 1390.0 530.0C1388.1 527.2 1387.6 527.3 1386.0 524.0C1384.4 520.7 1384.0 519.7 1383.0 516.0C1382.0 512.3 1382.0 511.0 1381.5 508.0C1381.0 505.0 1381.0 504.9 1381.0 503.0C1381.0 501.1 1380.6 500.9 1381.5 500.0ZM1376.0 536.0L1380.0 530.0L1383.0 526.5L1386.5 526.8L1386.2 531.0L1381.0 538.0L1378.0 539.2ZM1410.6 562.0C1411.2 560.2 1411.9 560.0 1413.2 560.0C1414.5 560.0 1415.3 560.4 1416.0 562.0C1416.7 563.6 1416.8 565.3 1416.2 567.0C1415.6 568.7 1414.8 569.1 1413.5 569.2C1412.2 569.3 1411.5 569.2 1410.8 567.5C1410.1 565.8 1410.0 563.8 1410.6 562.0ZM1382.5 584.5C1383.8 583.5 1387.0 583.2 1388.5 584.0C1390.0 584.8 1390.3 586.8 1389.0 587.8C1387.7 588.8 1384.5 589.0 1383.0 588.2C1381.5 587.4 1381.2 585.5 1382.5 584.5ZM1390.0 583.0C1392.1 581.9 1397.0 581.7 1399.3 582.5C1401.6 583.3 1401.9 585.5 1399.8 586.6C1397.7 587.7 1392.8 588.1 1390.5 587.3C1388.2 586.5 1387.9 584.1 1390.0 583.0ZM1398.8 576.0C1399.3 574.4 1400.1 574.2 1402.5 574.0C1404.9 573.8 1406.5 573.4 1409.0 575.0C1411.5 576.6 1411.0 580.1 1413.0 581.0C1415.0 581.9 1414.7 579.5 1417.5 579.0C1420.3 578.5 1420.9 578.2 1425.0 579.0C1429.1 579.8 1430.1 580.9 1435.0 582.5C1439.9 584.1 1440.8 584.2 1446.0 586.0C1451.2 587.8 1453.1 589.3 1457.5 590.0C1461.9 590.7 1462.1 589.5 1465.0 589.0C1467.9 588.5 1468.7 587.2 1470.0 588.0C1471.3 588.8 1471.8 590.6 1470.6 592.5C1469.4 594.4 1468.1 594.7 1465.0 596.0C1461.9 597.3 1459.8 596.8 1457.5 598.0C1455.2 599.2 1454.4 598.8 1455.0 601.0C1455.6 603.2 1458.6 604.8 1460.0 607.5C1461.4 610.2 1462.8 611.3 1461.0 612.5C1459.2 613.7 1455.7 614.2 1452.5 612.5C1449.3 610.8 1449.5 607.3 1447.5 605.0C1445.5 602.7 1445.8 602.3 1444.0 602.5C1442.2 602.7 1442.3 604.5 1440.0 606.0C1437.7 607.5 1437.5 608.6 1434.0 609.0C1430.5 609.4 1428.3 608.7 1425.0 607.5C1421.7 606.3 1421.4 606.3 1420.0 604.0C1418.6 601.7 1420.8 600.2 1419.0 597.5C1417.2 594.8 1415.8 594.8 1412.5 592.5C1409.2 590.2 1407.9 590.2 1405.0 587.5C1402.1 584.8 1401.5 583.7 1400.0 581.0C1398.5 578.3 1398.2 577.6 1398.8 576.0ZM1475.0 594.5C1475.4 593.1 1476.2 592.8 1477.5 592.8C1478.8 592.8 1479.8 593.3 1480.6 594.5C1481.4 595.7 1481.4 596.8 1481.0 598.0C1480.6 599.2 1480.1 599.5 1478.8 599.6C1477.5 599.7 1476.5 599.8 1475.6 598.6C1474.7 597.4 1474.6 595.9 1475.0 594.5ZM1333.0 656.0C1333.8 652.7 1333.0 652.3 1336.0 650.0C1339.0 647.7 1341.8 647.6 1346.0 646.0C1350.2 644.4 1351.2 645.8 1354.0 643.0C1356.8 640.2 1355.2 638.2 1358.0 634.0C1360.8 629.8 1361.8 627.6 1366.0 625.0C1370.2 622.4 1371.8 625.1 1376.0 623.0C1380.2 620.9 1379.3 618.1 1384.0 616.0C1388.7 613.9 1391.3 614.0 1396.0 614.0C1400.7 614.0 1401.7 613.7 1404.0 616.0C1406.3 618.3 1403.7 620.3 1406.0 624.0C1408.3 627.7 1411.0 630.6 1414.0 632.0C1417.0 633.4 1417.8 633.7 1419.0 630.0C1420.2 626.3 1418.3 620.7 1419.0 616.0C1419.7 611.3 1419.9 609.5 1422.0 610.0C1424.1 610.5 1424.7 613.8 1428.0 618.0C1431.3 622.2 1433.2 623.8 1436.0 628.0C1438.8 632.2 1436.7 632.3 1440.0 636.0C1443.3 639.7 1445.3 639.8 1450.0 644.0C1454.7 648.2 1455.8 648.9 1460.0 654.0C1464.2 659.1 1465.8 660.9 1468.0 666.0C1470.2 671.1 1469.6 671.3 1469.6 676.0C1469.6 680.7 1469.8 681.3 1468.0 686.0C1466.2 690.7 1464.8 691.3 1462.0 696.0C1459.2 700.7 1458.8 702.5 1456.0 706.0C1453.2 709.5 1453.7 709.4 1450.0 711.0C1446.3 712.6 1444.7 712.5 1440.0 713.0C1435.3 713.5 1434.2 713.7 1430.0 713.0C1425.8 712.3 1424.8 711.9 1422.0 710.0C1419.2 708.1 1419.9 705.9 1418.0 705.0C1416.1 704.1 1415.9 706.9 1414.0 706.0C1412.1 705.1 1412.3 703.8 1410.0 701.0C1407.7 698.2 1407.3 696.3 1404.0 694.0C1400.7 691.7 1400.7 691.5 1396.0 691.0C1391.3 690.5 1389.6 690.8 1384.0 692.0C1378.4 693.2 1376.7 694.4 1372.0 696.0C1367.3 697.6 1367.7 697.8 1364.0 699.0C1360.3 700.2 1359.7 700.1 1356.0 701.0C1352.3 701.9 1351.3 703.2 1348.0 703.0C1344.7 702.8 1343.2 702.6 1342.0 700.0C1340.8 697.4 1343.7 696.2 1343.0 692.0C1342.3 687.8 1340.9 686.7 1339.0 682.0C1337.1 677.3 1336.5 676.2 1335.0 672.0C1333.5 667.8 1332.9 667.7 1332.4 664.0C1331.9 660.3 1332.2 659.3 1333.0 656.0ZM1406.0 723.0C1407.6 721.4 1408.7 721.2 1412.0 721.0C1415.3 720.8 1418.4 720.6 1420.0 722.0C1421.6 723.4 1420.9 724.7 1419.0 727.0C1417.1 729.3 1415.0 730.6 1412.0 732.0C1409.0 733.4 1407.6 733.9 1406.0 733.0C1404.4 732.1 1405.0 730.3 1405.0 728.0C1405.0 725.7 1404.4 724.6 1406.0 723.0ZM1457.0 740.0C1458.4 738.4 1459.6 738.3 1464.0 736.0C1468.4 733.7 1470.9 732.8 1476.0 730.0C1481.1 727.2 1482.0 726.6 1486.0 724.0C1490.0 721.4 1490.2 720.9 1493.0 719.0C1495.8 717.1 1495.7 718.6 1498.0 716.0C1500.3 713.4 1501.6 712.0 1503.0 708.0C1504.4 704.0 1502.6 701.1 1504.0 699.0C1505.4 696.9 1507.4 696.9 1509.0 699.0C1510.6 701.1 1509.4 705.4 1511.0 708.0C1512.6 710.6 1514.8 708.6 1516.0 710.0C1517.2 711.4 1517.9 712.1 1516.0 714.0C1514.1 715.9 1511.7 715.9 1508.0 718.0C1504.3 720.1 1503.0 722.0 1500.0 723.0C1497.0 724.0 1497.3 721.3 1495.0 722.5C1492.7 723.7 1493.5 725.3 1490.0 728.0C1486.5 730.7 1484.7 731.0 1480.0 734.0C1475.3 737.0 1474.2 738.7 1470.0 741.0C1465.8 743.3 1464.8 743.5 1462.0 744.0C1459.2 744.5 1459.2 743.9 1458.0 743.0C1456.8 742.1 1455.6 741.6 1457.0 740.0ZM1496.0 647.0C1496.0 644.9 1497.7 644.6 1500.0 646.0C1502.3 647.4 1504.8 650.4 1506.0 653.0C1507.2 655.6 1506.4 656.5 1505.0 657.0C1503.6 657.5 1502.1 657.3 1500.0 655.0C1497.9 652.7 1496.0 649.1 1496.0 647.0Z" fill="#fff" fill-rule="nonzero"/>
<path d="M788.0 356.0C787.3 353.8 786.0 353.0 790.0 350.0C794.0 347.0 798.9 345.3 805.0 343.0C811.1 340.7 813.0 341.1 816.0 340.0C819.0 338.9 817.3 338.4 818.0 338.5C818.7 338.6 816.2 339.9 819.0 340.5C821.8 341.1 826.5 341.1 830.0 341.0C833.5 340.9 834.0 338.1 834.0 340.0C834.0 341.9 832.0 345.5 830.0 349.0C828.0 352.5 826.4 352.0 825.5 355.0C824.6 358.0 828.2 359.2 826.0 362.0C823.8 364.8 819.3 364.2 816.0 367.0C812.7 369.8 813.6 371.3 812.0 374.0C810.4 376.7 810.0 377.8 809.0 378.5C808.0 379.2 808.0 379.4 807.5 377.0C807.0 374.6 808.5 371.3 807.0 368.0C805.5 364.7 804.3 365.0 801.0 363.0C797.7 361.0 796.0 361.1 793.0 359.5C790.0 357.9 788.7 358.2 788.0 356.0ZM829.5 332.5L834.0 331.2L839.0 329.3L842.0 327.0L857.0 326.8L857.0 328.2L850.0 331.2L841.0 334.2L840.5 337.0L848.0 339.7L850.0 342.0L855.0 346.0L864.0 349.0L867.0 350.5L858.0 352.2L855.0 355.2L854.0 354.0L855.0 350.0L850.0 345.0L846.0 341.0L838.5 339.0L834.5 340.5L830.0 344.5L833.0 340.0L834.8 337.5L834.2 335.3L830.5 334.0ZM805.5 299.0C806.2 298.6 808.4 297.6 810.0 298.3C811.6 299.0 811.1 300.2 812.5 302.0C813.9 303.8 815.6 305.0 816.0 306.2C816.4 307.4 815.5 307.7 814.2 307.2C812.9 306.7 812.1 304.4 810.5 304.2C808.9 304.0 808.7 305.0 807.2 306.2C805.7 307.4 805.3 309.0 804.0 309.5C802.7 310.0 803.4 309.0 801.5 308.5C799.6 308.0 797.0 308.0 796.0 307.5C795.0 307.0 795.6 306.6 797.0 306.5C798.4 306.4 799.8 307.5 802.0 307.0C804.2 306.5 804.9 305.6 806.5 304.5C808.1 303.4 808.9 303.6 809.0 302.5C809.1 301.4 807.8 300.8 807.0 300.0C806.2 299.2 804.8 299.4 805.5 299.0ZM803.2 312.8C804.8 312.6 804.9 313.7 806.2 314.8C807.5 315.9 809.2 316.6 808.8 317.6C808.4 318.6 806.8 317.9 804.5 319.2C802.2 320.5 801.1 322.1 799.0 323.2C796.9 324.3 795.3 324.5 795.5 323.8C795.7 323.1 799.1 321.9 800.0 320.0C800.9 318.1 798.8 317.2 799.5 315.5C800.2 313.8 801.6 313.0 803.2 312.8ZM823.0 313.8C824.5 313.0 828.2 312.3 830.0 313.5C831.8 314.7 829.8 317.4 830.5 319.0C831.2 320.6 833.1 319.7 833.0 320.5C832.9 321.3 831.6 322.5 830.0 322.5C828.4 322.5 827.5 321.8 826.0 320.5C824.5 319.2 824.2 318.6 823.5 317.0C822.8 315.4 821.5 314.6 823.0 313.8ZM842.0 321.8L849.5 322.2L849.5 324.0L842.5 324.0ZM841.0 299.0L844.0 298.6L847.5 301.5L846.0 302.0ZM835.0 304.5L836.5 304.8L837.5 308.5L836.0 308.0ZM1063.5 337.2C1064.9 336.5 1066.1 336.7 1066.0 337.2C1065.9 337.7 1064.8 338.4 1063.0 339.5C1061.2 340.6 1059.4 340.2 1058.5 342.0C1057.6 343.8 1058.4 344.9 1059.0 347.0C1059.6 349.1 1059.6 348.9 1061.0 351.0C1062.4 353.1 1065.2 353.7 1065.0 356.0C1064.8 358.3 1061.5 358.2 1060.0 361.0C1058.5 363.8 1060.8 366.0 1058.5 368.0C1056.2 370.0 1054.1 368.9 1050.0 369.5C1045.9 370.1 1043.1 370.6 1041.0 370.5C1038.9 370.4 1039.2 369.9 1040.8 369.2C1042.4 368.5 1045.6 368.5 1048.0 367.5C1050.4 366.5 1049.8 367.0 1051.0 365.0C1052.2 363.0 1051.7 361.4 1053.0 359.0C1054.3 356.6 1056.4 356.8 1056.5 354.5C1056.6 352.2 1053.6 351.7 1053.5 349.0C1053.4 346.3 1054.5 345.1 1056.0 343.0C1057.5 340.9 1058.2 341.4 1060.0 340.0C1061.8 338.6 1062.1 337.9 1063.5 337.2ZM1028.2 360.0L1033.5 358.2L1035.8 361.0L1035.2 363.0L1033.5 360.0L1029.0 361.2ZM990.0 437.2C991.4 436.7 993.7 436.7 996.0 436.0C998.3 435.3 998.4 435.4 1000.0 434.0C1001.6 432.6 1001.8 431.9 1003.0 430.0C1004.2 428.1 1003.8 427.8 1005.0 426.0C1006.2 424.2 1006.4 424.2 1008.0 422.5C1009.6 420.8 1010.1 420.2 1012.0 418.5C1013.9 416.8 1013.7 416.4 1016.0 415.0C1018.3 413.6 1019.2 413.6 1022.0 412.5C1024.8 411.4 1025.9 411.1 1028.0 410.5C1030.1 409.9 1029.8 408.9 1031.0 409.8C1032.2 410.7 1031.8 412.8 1033.0 414.5C1034.2 416.2 1034.4 415.8 1036.0 417.0C1037.6 418.2 1037.9 418.2 1040.0 419.5C1042.1 420.8 1043.1 421.3 1045.0 422.5C1046.9 423.7 1047.3 423.6 1048.0 424.5C1048.7 425.4 1048.7 425.7 1047.8 426.5C1046.9 427.3 1045.8 427.2 1044.0 427.8C1042.2 428.4 1041.3 428.3 1040.0 429.0C1038.7 429.7 1038.5 429.9 1038.5 431.0C1038.5 432.1 1038.7 432.4 1040.0 433.5C1041.3 434.6 1041.9 435.0 1044.0 435.5C1046.1 436.0 1047.4 436.3 1049.0 435.5C1050.6 434.7 1049.8 434.0 1051.0 432.0C1052.2 430.0 1052.8 428.8 1054.0 427.0C1055.2 425.2 1055.0 425.2 1056.0 424.5C1057.0 423.8 1057.8 424.4 1058.5 424.0C1059.2 423.6 1059.4 424.1 1059.2 423.0C1059.0 421.9 1058.7 421.4 1057.5 419.5C1056.3 417.6 1056.2 416.8 1054.0 415.0C1051.8 413.2 1050.8 413.9 1048.0 412.0C1045.2 410.1 1043.2 408.3 1042.0 407.0C1040.8 405.7 1041.3 405.6 1042.8 406.6C1044.3 407.6 1045.8 409.4 1048.6 411.2C1051.4 413.0 1052.5 412.4 1054.8 414.2C1057.1 416.0 1057.1 416.8 1058.4 419.0C1059.7 421.2 1059.6 421.4 1060.2 423.5C1060.8 425.6 1060.1 426.0 1061.0 428.0C1061.9 430.0 1062.5 430.2 1064.0 432.0C1065.5 433.8 1065.9 434.2 1067.5 435.5C1069.1 436.8 1069.8 437.3 1071.0 437.5C1072.2 437.7 1072.0 437.8 1072.5 436.5C1073.0 435.2 1072.7 434.2 1073.0 432.0C1073.3 429.8 1073.5 429.1 1074.0 427.0C1074.5 424.9 1074.4 424.2 1075.0 423.0C1075.6 421.8 1075.7 421.8 1076.5 422.0C1077.3 422.2 1077.7 422.6 1078.5 424.0C1079.3 425.4 1079.1 426.0 1080.0 428.0C1080.9 430.0 1081.1 430.8 1082.5 432.5C1083.9 434.2 1083.5 434.2 1086.0 435.5C1088.5 436.8 1089.7 437.3 1093.0 438.0C1096.3 438.7 1096.7 438.5 1100.0 438.5C1103.3 438.5 1104.9 438.4 1107.0 438.0C1109.1 437.6 1108.8 436.1 1109.0 437.0C1109.2 437.9 1108.7 439.4 1108.0 442.0C1107.3 444.6 1106.9 445.8 1106.0 448.0C1105.1 450.2 1105.9 450.6 1104.0 451.5C1102.1 452.4 1101.7 452.0 1098.0 452.0C1094.3 452.0 1092.2 452.0 1088.0 451.5C1083.8 451.0 1083.0 450.8 1080.0 450.0C1077.0 449.2 1077.6 448.7 1075.0 448.0C1072.4 447.3 1071.7 446.8 1069.0 447.0C1066.3 447.2 1065.1 447.4 1063.5 449.0C1061.9 450.6 1063.0 452.7 1062.0 454.0C1061.0 455.3 1061.3 455.1 1059.0 454.5C1056.7 453.9 1055.0 453.0 1052.0 451.5C1049.0 450.0 1049.0 449.5 1046.0 448.0C1043.0 446.5 1041.2 446.6 1039.0 445.0C1036.8 443.4 1037.2 443.1 1036.5 441.0C1035.8 438.9 1036.6 438.1 1036.0 436.0C1035.4 433.9 1035.4 433.2 1034.0 432.0C1032.6 430.8 1033.3 431.0 1030.0 431.0C1026.7 431.0 1024.7 431.5 1020.0 432.0C1015.3 432.5 1014.0 432.6 1010.0 433.2C1006.0 433.8 1005.3 433.8 1003.0 434.5C1000.7 435.2 1001.6 435.3 1000.0 436.0C998.4 436.7 998.3 437.0 996.0 437.5C993.7 438.0 991.4 438.1 990.0 438.0C988.6 437.9 988.6 437.7 990.0 437.2ZM1088.0 409.0C1088.3 407.1 1088.6 406.6 1090.0 405.0C1091.4 403.4 1092.4 402.0 1094.0 402.0C1095.6 402.0 1095.6 403.6 1097.0 405.0C1098.4 406.4 1097.4 407.5 1100.0 408.0C1102.6 408.5 1104.3 406.8 1108.0 407.0C1111.7 407.2 1112.7 407.8 1116.0 409.0C1119.3 410.2 1120.1 410.4 1122.0 412.0C1123.9 413.6 1124.5 414.7 1124.0 416.0C1123.5 417.3 1122.3 417.4 1120.0 417.5C1117.7 417.6 1116.8 417.3 1114.0 416.5C1111.2 415.7 1111.3 414.5 1108.0 414.0C1104.7 413.5 1103.7 414.1 1100.0 414.5C1096.3 414.9 1094.7 415.9 1092.0 415.5C1089.3 415.1 1089.4 414.5 1088.5 413.0C1087.6 411.5 1087.7 410.9 1088.0 409.0ZM1142.0 406.0C1142.2 403.0 1144.4 402.4 1147.0 401.0C1149.6 399.6 1151.4 399.3 1153.0 400.0C1154.6 400.7 1154.7 401.7 1154.0 404.0C1153.3 406.3 1150.2 406.7 1150.0 410.0C1149.8 413.3 1150.7 414.3 1153.0 418.0C1155.3 421.7 1157.9 423.0 1160.0 426.0C1162.1 429.0 1162.7 429.6 1162.0 431.0C1161.3 432.4 1159.6 433.6 1157.0 432.0C1154.4 430.4 1153.6 428.2 1151.0 424.0C1148.4 419.8 1148.1 418.2 1146.0 414.0C1143.9 409.8 1141.8 409.0 1142.0 406.0ZM1107.3 466.5L1112.3 473.0L1117.8 480.0L1123.0 488.5L1127.5 497.0L1132.5 505.5L1137.6 516.0L1136.0 517.2L1128.6 507.5L1122.6 499.0L1117.6 490.0L1112.6 481.0L1108.8 474.0ZM1154.0 460.0L1160.0 466.0L1166.0 473.0L1168.5 474.0L1175.0 471.5L1175.5 473.0L1168.0 477.0L1163.0 472.5L1158.0 467.0ZM1359.0 427.5L1361.5 424.0L1364.0 426.0L1364.0 429.2L1370.0 428.0L1370.0 429.0L1364.0 430.2L1361.5 430.5Z" fill="#000" fill-rule="nonzero"/>
<path d="M774.0 304.0C775.9 304.6 778.3 305.4 782.0 306.5C785.7 307.6 787.2 308.0 790.0 308.6C792.8 309.2 793.1 308.9 794.0 309.0" fill="none" stroke="#000" stroke-width="1.0" stroke-linecap="round"/><path d="M891.0 294.0C892.9 294.0 897.1 294.2 899.0 294.2" fill="none" stroke="#000" stroke-width="1.0" stroke-linecap="round"/><path d="M829.5 301.5C830.2 300.7 831.8 298.8 832.5 298.0" fill="none" stroke="#000" stroke-width="1.2" stroke-linecap="round"/><path d="M823.5 306.3C824.4 306.3 826.6 306.5 827.5 306.5" fill="none" stroke="#000" stroke-width="1.0" stroke-linecap="round"/><path d="M991.2 372.5C991.5 373.3 992.3 375.2 992.6 376.0" fill="none" stroke="#000" stroke-width="0.8" stroke-linecap="round"/>
<path d="M1009.0 424.0C1009.4 422.8 1009.7 421.9 1011.0 421.5C1012.3 421.1 1013.6 421.6 1014.5 422.5C1015.4 423.4 1015.5 424.4 1015.0 425.5C1014.5 426.6 1013.8 426.8 1012.5 427.0C1011.2 427.2 1010.3 427.2 1009.5 426.5C1008.7 425.8 1008.6 425.2 1009.0 424.0ZM1026.5 409.5C1027.8 407.9 1029.9 408.0 1031.5 409.2C1033.1 410.4 1032.7 412.0 1033.2 414.5C1033.7 417.0 1033.6 417.6 1033.5 420.0C1033.4 422.4 1033.6 423.2 1032.8 425.0C1032.0 426.8 1031.3 427.1 1030.0 427.5C1028.7 427.9 1028.1 427.8 1027.2 426.5C1026.3 425.2 1026.5 424.4 1026.2 422.0C1025.9 419.6 1025.9 418.9 1026.0 416.0C1026.1 413.1 1025.2 411.1 1026.5 409.5ZM1072.0 437.8C1072.8 436.9 1073.5 436.7 1076.0 436.5C1078.5 436.3 1080.6 436.2 1082.5 437.0C1084.4 437.8 1084.0 438.6 1084.0 440.0C1084.0 441.4 1084.4 442.3 1082.5 443.0C1080.6 443.7 1078.3 443.6 1076.0 443.0C1073.7 442.4 1073.4 441.7 1072.5 440.5C1071.6 439.3 1071.2 438.7 1072.0 437.8ZM1100.0 439.0L1106.5 438.8L1107.2 444.0L1100.5 444.0Z" fill="#fff" fill-rule="nonzero"/>
</mask>
<filter id="mapshadow" filterUnits="userSpaceOnUse" x="560" y="240" width="1030" height="570" color-interpolation-filters="sRGB">
<feGaussianBlur in="SourceAlpha" stdDeviation="2.9" result="b"/>
<feOffset in="b" dx="-6.5" dy="-5.5" result="o"/>
<feComponentTransfer in="o" result="s"><feFuncA type="linear" slope="0.40"/></feComponentTransfer>
<feFlood flood-color="#3a352c" result="f"/>
<feComposite in="f" in2="s" operator="in" result="sh"/>
<feMerge><feMergeNode in="sh"/><feMergeNode in="SourceGraphic"/></feMerge>
</filter>
</defs>
<g filter="url(#mapshadow)">
<rect x="580" y="260" width="990" height="530" fill="url(#mapgrad)" mask="url(#landmask)"/>
</g>
</svg>
<svg id="conn" width="1600" height="900" viewBox="0 0 1600 900">
<path d="M858.4 252 L858.4 325 L733.5 325 L733.5 396" fill="none" stroke="#c00000" stroke-width="3.2" stroke-linejoin="miter"/>
<path d="M723 379.6 L733.5 397.6 L744 379.6" fill="none" stroke="#c00000" stroke-width="3" stroke-linejoin="miter" stroke-linecap="butt"/>
</svg>
<svg id="logo" width="1600" height="900" viewBox="0 0 1600 900"><g fill="none" stroke="#1d408f" stroke-linecap="round"><circle cx="1282.7" cy="842.2" r="25.6" stroke-width="2.5"/><ellipse cx="1282.7" cy="842.2" rx="9.3" ry="25.6" stroke-width="1.7"/><ellipse cx="1282.7" cy="842.2" rx="19" ry="25.6" stroke-width="1.7"/><path d="M1257.9 836.2 Q1282.7 829.4 1307.5 836.2" stroke-width="1.7"/><path d="M1257.9 848.2 Q1282.7 855.0 1307.5 848.2" stroke-width="1.7"/><path d="M1264.7 823.8 Q1282.7 820.2 1300.7 823.8" stroke-width="1.7"/><path d="M1264.7 860.6 Q1282.7 864.2 1300.7 860.6" stroke-width="1.7"/></g><g fill="none" stroke="#d8191f" stroke-width="1.9" stroke-linecap="butt" stroke-linejoin="miter"><path d="M1252.52 841.15 A30.20 30.20 0 0 1 1275.91 812.77"/><path d="M1272.29 810.07 L1277.37 812.44 L1273.84 816.79" stroke-width="1.9"/><path d="M1295.94 815.06 A30.20 30.20 0 0 1 1312.53 846.92"/><path d="M1316.39 844.59 L1312.29 848.41 L1309.58 843.51" stroke-width="1.9"/><path d="M1293.03 870.58 A30.20 30.20 0 0 1 1256.03 856.38"/><path d="M1254.36 860.57 L1255.33 855.05 L1260.45 857.33" stroke-width="1.9"/></g><path d="M1307.8 858.1 L1315.9 864.3 L1307.3 873.7 L1300.2 866.2 Z" fill="#d8191f"/><g font-family="'Liberation Serif', serif" fill="#1d408f"><text x="1320.2" y="858.2" font-size="69.5" font-weight="bold" textLength="51.5" lengthAdjust="spacingAndGlyphs">A</text><text x="1369.8" y="858.2" font-size="44.6" font-weight="bold" textLength="166.2" lengthAdjust="spacingAndGlyphs">CUMEN</text><text x="1321.3" y="875.6" font-size="13.7" textLength="214.6" lengthAdjust="spacing">RESEARCH AND CONSULTING</text></g></svg>
</div>
<div id="frame"></div>

</body></html>
